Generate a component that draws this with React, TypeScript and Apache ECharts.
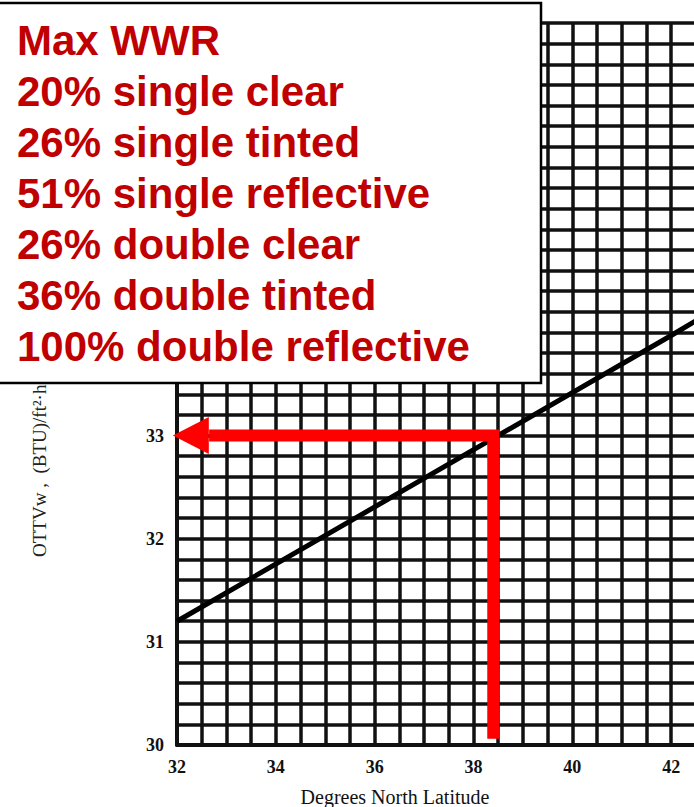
import React, { useEffect, useRef } from "react";
import * as echarts from "echarts";

// Axis ranges (the chart continues past the right edge of the picture)
const xMin = 32;
const xMax = 44;
const yMin = 30;
const yMax = 37;
// Tick labels above this value are covered by the legend box in the reference
const yLabelMaxShown = 33;

// The OTTV line
const latitude = [32, 42, 44];
const ottv = [31.2, 33.97, 34.54];

// The red reading arrow: from the latitude up to the line, then across to the OTTV axis
const readLatitude = 38.4;
const readOttv = 33;
const readStart = 30.06;
const arrowBase = 32.65;
const arrowHeadCenter = 32.28;

const legendLines = [
  "Max WWR",
  "20% single clear",
  "26% single tinted",
  "51% single reflective",
  "26% double clear",
  "36% double tinted",
  "100% double reflective",
];
const xAxisTitle = "Degrees North Latitude";
const yAxisTitle = "OTTVw ,  (BTU)/ft²·h";

const gridColor = "#111";
const serif = "'Liberation Serif', 'DejaVu Serif', serif";

export default function App() {
  const ref = useRef<HTMLDivElement>(null);

  useEffect(() => {
    if (!ref.current) return;
    const chart = echarts.init(ref.current, undefined, { renderer: "svg" });

    const legendTexts = legendLines.map((t, i) => ({
      type: "text",
      z: 101,
      x: 17,
      y: 40 + 51 * i,
      style: {
        text: t,
        fill: "#C00000",
        font: "bold 42px 'Liberation Sans', Arial, sans-serif",
        textAlign: "left",
        textVerticalAlign: "middle",
      },
    }));

    chart.setOption({
      animation: false,
      backgroundColor: "#fff",
      grid: {
        left: 177,
        top: 23,
        width: 593,
        height: 722,
        containLabel: false,
        outerBoundsMode: "none",
      },
      xAxis: {
        type: "value",
        min: xMin,
        max: xMax,
        interval: 2,
        axisLine: { show: true, lineStyle: { color: gridColor, width: 4 } },
        axisTick: { show: false },
        minorTick: { show: false, splitNumber: 4 },
        splitLine: { show: true, lineStyle: { color: gridColor, width: 3.5 } },
        minorSplitLine: { show: true, lineStyle: { color: gridColor, width: 3.5 } },
        axisLabel: {
          color: "#111",
          fontFamily: serif,
          fontWeight: "bold",
          fontSize: 18,
          margin: 13,
        },
      },
      yAxis: {
        type: "value",
        min: yMin,
        max: yMax,
        interval: 1,
        axisLine: { show: true, lineStyle: { color: gridColor, width: 4 } },
        axisTick: { show: false },
        minorTick: { show: false, splitNumber: 5 },
        splitLine: { show: true, lineStyle: { color: gridColor, width: 3.5 } },
        minorSplitLine: { show: true, lineStyle: { color: gridColor, width: 3.5 } },
        axisLabel: {
          color: "#111",
          fontFamily: serif,
          fontWeight: "bold",
          fontSize: 18,
          margin: 13,
          formatter: (v: number) => (v <= yLabelMaxShown ? String(v) : ""),
        },
      },
      series: [
        {
          type: "line",
          data: latitude.map((x, i) => [x, ottv[i]]),
          symbol: "none",
          lineStyle: { color: "#000", width: 5 },
          z: 3,
        },
        {
          type: "line",
          data: [
            [readLatitude, readStart],
            [readLatitude, readOttv],
            [arrowBase, readOttv],
          ],
          symbol: "none",
          lineStyle: { color: "#FF0000", width: 12, cap: "butt", join: "miter", opacity: 1 },
          z: 5,
        },
        {
          type: "scatter",
          data: [[arrowHeadCenter, readOttv]],
          symbol: "triangle",
          symbolRotate: 90,
          symbolSize: [37, 36],
          itemStyle: { color: "#FF0000", opacity: 1 },
          z: 6,
        },
      ],
      graphic: [
        {
          type: "text",
          x: 395,
          y: 797,
          style: {
            text: xAxisTitle,
            fill: "#111",
            font: `20px ${serif}`,
            textAlign: "center",
            textVerticalAlign: "middle",
          },
        },
        {
          type: "text",
          x: 39,
          y: 557,
          rotation: Math.PI / 2,
          style: {
            text: yAxisTitle,
            fill: "#222",
            font: `19px ${serif}`,
            textAlign: "left",
            textVerticalAlign: "middle",
          },
        },
        {
          type: "rect",
          z: 100,
          shape: { x: -3, y: 3, width: 544, height: 380 },
          style: { fill: "#fff", stroke: "#000", lineWidth: 2.5 },
        },
        ...legendTexts,
      ],
    });

    return () => chart.dispose();
  }, []);

  return (
    <div
      ref={ref}
      style={{ position: "fixed", left: 0, top: 0, width: 694, height: 807, overflow: "hidden" }}
    />
  );
}
